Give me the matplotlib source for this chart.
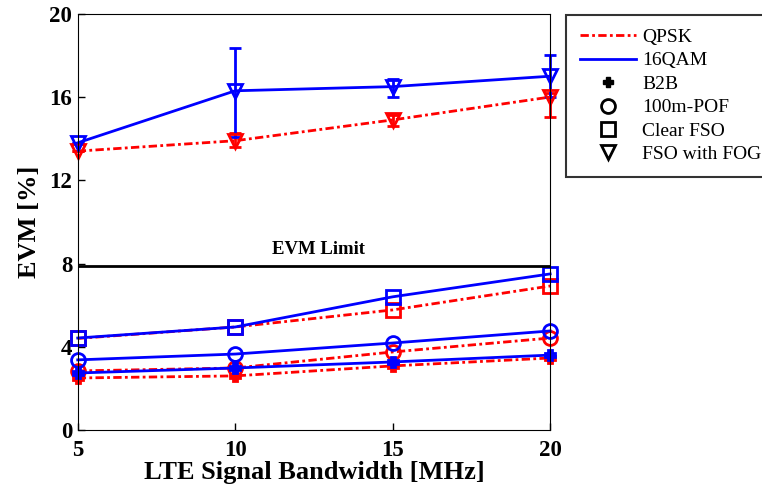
import numpy as np
import matplotlib.pyplot as plt
from matplotlib.lines import Line2D

plt.rcParams['font.family'] = ['Liberation Serif', 'DejaVu Serif']

# 데이터
bw = [5, 10, 15, 20]

qpsk_b2b = [2.5, 2.6, 3.08, 3.46]
qpsk_pof = [2.84, 2.98, 3.75, 4.42]
qpsk_clear = [4.4, 4.95, 5.77, 6.92]
qpsk_fog = [13.4, 13.9, 14.9, 16.0]
qpsk_fog_lo = [0.0, 0.3, 0.3, 0.95]
qpsk_fog_hi = [0.0, 0.35, 0.25, 0.2]

qam_b2b = [2.74, 2.98, 3.27, 3.6]
qam_pof = [3.37, 3.65, 4.18, 4.76]
qam_clear = [4.42, 4.95, 6.4, 7.5]
qam_fog = [13.8, 16.3, 16.5, 17.0]
qam_fog_lo = [0.0, 2.2, 0.5, 1.0]
qam_fog_hi = [0.0, 2.05, 0.35, 1.0]

evm_limit = 7.9

fig = plt.figure(figsize=(7.62, 4.92), dpi=100)
ax = fig.add_axes([0.102, 0.126, 0.62, 0.846])

dashdot = (0, (3, 1.2, 1, 1.2))
red = dict(color='r', linestyle=dashdot, linewidth=2, markersize=10, markeredgewidth=2,
           markerfacecolor='none', clip_on=False)
blue = dict(color='b', linestyle='-', linewidth=2, markersize=10, markeredgewidth=2,
            markerfacecolor='none', clip_on=False)

# QPSK
ax.plot(bw, qpsk_b2b, marker='P', **{**red, 'markerfacecolor': 'r', 'markersize': 7})
ax.plot(bw, qpsk_pof, marker='o', **red)
ax.plot(bw, qpsk_clear, marker='s', **red)
ax.errorbar(bw, qpsk_fog, yerr=[qpsk_fog_lo, qpsk_fog_hi], marker='v', capsize=4,
            elinewidth=2, capthick=2, **red)

# 16QAM
ax.plot(bw, qam_b2b, marker='P', **{**blue, 'markerfacecolor': 'b', 'markersize': 7})
ax.plot(bw, qam_pof, marker='o', **blue)
ax.plot(bw, qam_clear, marker='s', **blue)
ax.errorbar(bw, qam_fog, yerr=[qam_fog_lo, qam_fog_hi], marker='v', capsize=4,
            elinewidth=2, capthick=2, **blue)

# EVM 한계선
ax.axhline(evm_limit, color='k', linewidth=2)
ax.text(12.65, evm_limit + 0.35, 'EVM Limit', ha='center', va='bottom',
        fontsize=13.5, fontweight='bold')

ax.set_xlim(5, 20)
ax.set_ylim(0, 20)
ax.set_xticks(bw)
ax.set_yticks([0, 4, 8, 12, 16, 20])
ax.tick_params(direction='in', labelsize=16.5, length=5, width=1, pad=4)
ax.tick_params(axis='x', pad=7)
for lab in ax.get_xticklabels() + ax.get_yticklabels():
    lab.set_fontweight('bold')
ax.set_xlabel('LTE Signal Bandwidth [MHz]', fontsize=19, fontweight='bold', labelpad=0)
ax.set_ylabel('EVM [%]', fontsize=19, fontweight='bold', labelpad=6)

# 범례
handles = [
    Line2D([], [], color='r', linestyle=dashdot, linewidth=2),
    Line2D([], [], color='b', linestyle='-', linewidth=2),
    Line2D([], [], color='k', linestyle='none', marker='P', markersize=7),
    Line2D([], [], color='k', linestyle='none', marker='o', markerfacecolor='none',
           markersize=10, markeredgewidth=2),
    Line2D([], [], color='k', linestyle='none', marker='s', markerfacecolor='none',
           markersize=10, markeredgewidth=2),
    Line2D([], [], color='k', linestyle='none', marker='v', markerfacecolor='none',
           markersize=10, markeredgewidth=2),
]
labels = ['QPSK', '16QAM', 'B2B', '100m-POF', 'Clear FSO', 'FSO with FOG']
leg = fig.legend(handles, labels, loc='upper left', bbox_to_anchor=(0.743, 0.970),
                 borderaxespad=0, fontsize=14, frameon=True, fancybox=False,
                 edgecolor='k', handlelength=2.9, handletextpad=0.3,
                 labelspacing=0.3, borderpad=0.7)
leg.get_frame().set_linewidth(1.5)

fig.savefig('out.png', dpi=100)
